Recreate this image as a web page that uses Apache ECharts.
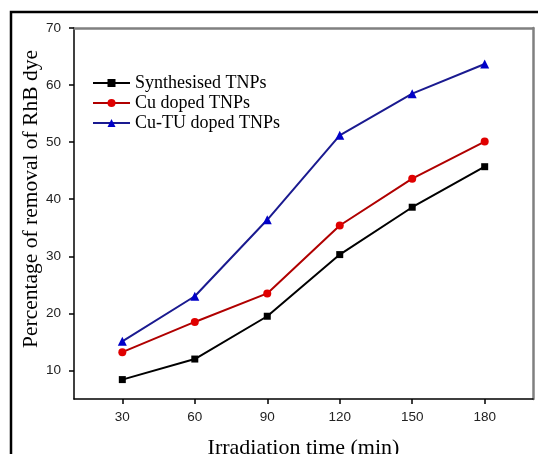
<!DOCTYPE html>
<html><head><meta charset="utf-8">
<script src="https://cdn.jsdelivr.net/npm/echarts@6/dist/echarts.min.js"></script>
<style>html,body{margin:0;padding:0;background:#fff}#c{width:538px;height:454px}</style>
</head><body><div id="c"></div>
<script>
var times = [30, 60, 90, 120, 150, 180];
var synthesised = [8.4, 12.0, 19.5, 30.3, 38.6, 45.7];
var cuDoped = [13.2, 18.5, 23.5, 35.4, 43.6, 50.1];
var cuTuDoped = [15.1, 23.0, 36.4, 51.2, 58.5, 63.7];
var yTicks = [10, 20, 30, 40, 50, 60, 70];
var xTicks = [30, 60, 90, 120, 150, 180];
var names = ['Synthesised TNPs', 'Cu doped TNPs', 'Cu-TU doped TNPs'];

function pairs(v){ return times.map(function(t,i){ return [t, v[i]]; }); }
var chart = echarts.init(document.getElementById('c'), null, {renderer:'canvas'});
var serif = 'Liberation Serif';
var sans = 'Liberation Sans';
chart.setOption({
  animation: false,
  backgroundColor: '#fff',
  grid: {left: 74, right: 5, top: 28, bottom: 55, containLabel: false, outerBoundsMode: 'none'},
  legend: {
    orient: 'vertical', left: 92, top: 74, padding: 0,
    itemWidth: 37, itemHeight: 10, itemGap: 2,
    textStyle: {fontFamily: serif, fontSize: 18, color: '#000'},
    data: names
  },
  xAxis: [{
    type: 'value', min: 10, max: 200, position: 'bottom',
    name: 'Irradiation time (min)', nameLocation: 'middle', nameGap: 38,
    nameTextStyle: {fontFamily: serif, fontSize: 22, color: '#000', verticalAlign: 'top'},
    axisLine: {show: true, lineStyle: {color: '#000', width: 1.5}},
    axisTick: {show: true, inside: false, length: 5, customValues: xTicks, lineStyle: {color: '#000', width: 1.5}},
    axisLabel: {customValues: xTicks, fontFamily: sans, fontSize: 13.5, color: '#222', margin: 11},
    splitLine: {show: false}
  }, {
    type: 'value', min: 10, max: 200, position: 'top',
    axisLine: {show: true, lineStyle: {color: '#808080', width: 2.5}},
    axisTick: {show: false}, axisLabel: {show: false}, splitLine: {show: false}
  }],
  yAxis: [{
    type: 'value', min: 5, max: 70, position: 'left',
    axisLine: {show: true, lineStyle: {color: '#000', width: 1.5}},
    axisTick: {show: true, inside: false, length: 5, customValues: yTicks, lineStyle: {color: '#000', width: 1.5}},
    axisLabel: {customValues: yTicks, fontFamily: sans, fontSize: 13.5, color: '#222', margin: 13},
    splitLine: {show: false}
  }, {
    type: 'value', min: 5, max: 70, position: 'right',
    axisLine: {show: true, lineStyle: {color: '#808080', width: 2.5}},
    axisTick: {show: false}, axisLabel: {show: false}, splitLine: {show: false}
  }],
  graphic: [{
    type: 'rect', shape: {x: 11, y: 12, width: 700, height: 700},
    style: {fill: 'none', stroke: '#000', lineWidth: 2.5}, silent: true, z: 100
  }, {
    type: 'text', x: 31, y: 199, rotation: Math.PI / 2,
    style: {text: 'Percentage of removal of RhB dye', fontFamily: serif, fontSize: 21.5, fill: '#000', align: 'center', verticalAlign: 'middle'}
  }],
  series: [{
    name: names[0], type: 'line', data: pairs(synthesised),
    symbol: 'rect', symbolSize: 7,
    lineStyle: {color: '#000', width: 2}, itemStyle: {color: '#000'}
  }, {
    name: names[1], type: 'line', data: pairs(cuDoped),
    symbol: 'circle', symbolSize: 8,
    lineStyle: {color: '#b00000', width: 2}, itemStyle: {color: '#e00000'}
  }, {
    name: names[2], type: 'line', data: pairs(cuTuDoped),
    symbol: 'triangle', symbolSize: 9,
    lineStyle: {color: '#1a1a90', width: 2}, itemStyle: {color: '#0000c8'}
  }]
});
</script></body></html>
